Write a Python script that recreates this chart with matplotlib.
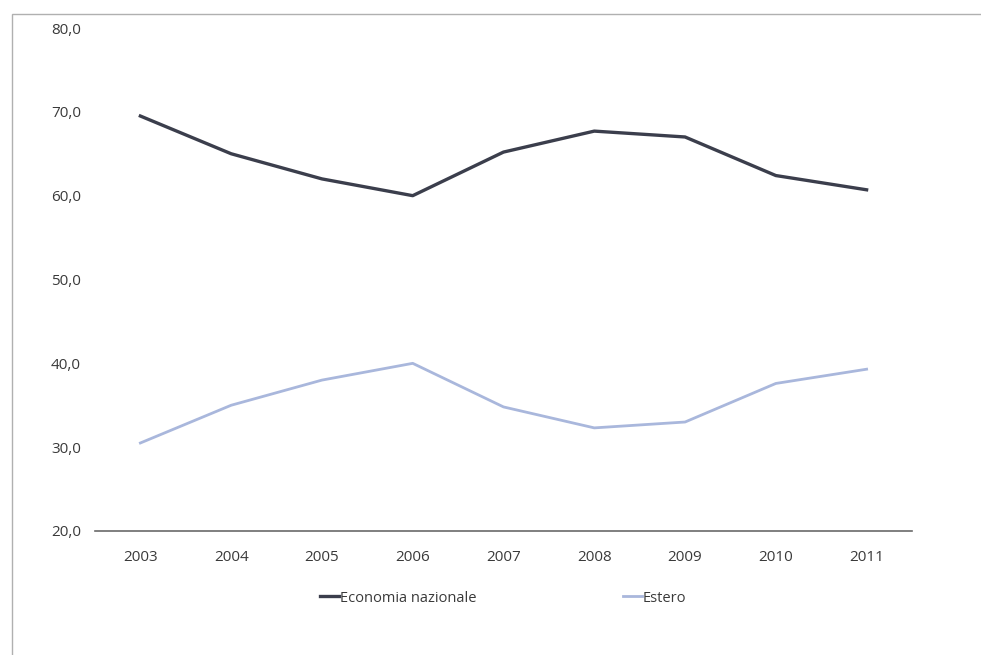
import matplotlib
matplotlib.use("Agg")
import matplotlib.pyplot as plt
from matplotlib.patches import Rectangle
from matplotlib.ticker import FixedLocator, FuncFormatter

years = ["2003", "2004", "2005", "2006", "2007", "2008", "2009", "2010", "2011"]
economia_nazionale = [69.5, 65.0, 62.0, 60.0, 65.2, 67.7, 67.0, 62.4, 60.7]
estero = [30.5, 35.0, 38.0, 40.0, 34.8, 32.3, 33.0, 37.6, 39.3]
y_ticks = [20, 30, 40, 50, 60, 70, 80]

plt.rcParams['font.family'] = ['Liberation Sans Narrow', 'Open Sans', 'DejaVu Sans']

fig = plt.figure(figsize=(9.81, 6.55), dpi=100)
fig.patch.set_facecolor('white')

# outer chart border (only top/left visible in scan)
fig.patches.append(Rectangle((12 / 981, -0.05), 1.2, 1 - 14 / 655 + 0.05,
                             transform=fig.transFigure, fill=False,
                             edgecolor='#b0b0b0', linewidth=1.0))

ax = fig.add_axes([95 / 981, 1 - 531 / 655, 817 / 981, (531 - 28) / 655])
x = list(range(len(years)))
ax.plot(x, economia_nazionale, color='#3b3e4c', linewidth=2.4, label='Economia nazionale',
        solid_joinstyle='round')
ax.plot(x, estero, color='#a9b7dc', linewidth=2.0, label='Estero', solid_joinstyle='round')

ax.set_xlim(-0.5, len(years) - 0.5)
ax.set_ylim(20, 80)
ax.set_xticks(x)
ax.set_xticklabels(years)
ax.yaxis.set_major_locator(FixedLocator(y_ticks))
ax.yaxis.set_major_formatter(FuncFormatter(lambda v, p: f"{v:.1f}".replace('.', ',')))

for s in ['top', 'right', 'left']:
    ax.spines[s].set_visible(False)
ax.spines['bottom'].set_color('#6a6a6a')
ax.spines['bottom'].set_linewidth(1.2)
ax.tick_params(axis='both', length=0, labelsize=11, colors='#3a3a3a')
ax.tick_params(axis='x', pad=14)
ax.tick_params(axis='y', pad=10)

fig.legend(loc='center', bbox_to_anchor=(0.513, 1 - 598 / 655), ncol=2, frameon=False,
           fontsize=10.5, handlelength=1.3, handletextpad=0.1, columnspacing=10,
           labelcolor='#3a3a3a')

fig.savefig('out.png', dpi=100, facecolor='white')
